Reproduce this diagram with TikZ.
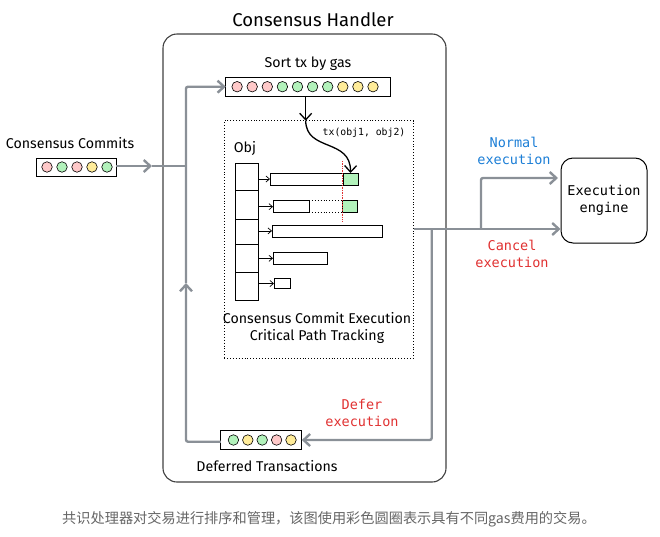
\documentclass[tikz,border=0pt]{standalone}
\usepackage{fontspec}
\setmainfont{Fira Sans}
\setmonofont{DejaVu Sans Mono}
\newfontfamily\cjk{Noto Sans CJK SC}
\usepackage{tikz}
\usetikzlibrary{arrows.meta}
\usetikzlibrary{positioning}

\definecolor{gaspink}{HTML}{FFC9C9}
\definecolor{gasgreen}{HTML}{B2F2BB}
\definecolor{gasyellow}{HTML}{FFEC99}
\definecolor{flowgray}{HTML}{8A9097}
\definecolor{normalblue}{HTML}{1C7ED6}
\definecolor{cancelred}{HTML}{E03131}
\definecolor{captiongray}{HTML}{666666}

\begin{document}
\begin{tikzpicture}[x=1pt,y=-1pt,
  >={Straight Barb[length=6.5pt,width=12pt]},
  hand/.style={font=\fontsize{14.2}{17}\selectfont,align=center},
  mono/.style={font=\ttfamily\fontsize{13.5}{17}\selectfont,align=center},
  flow/.style={draw=flowgray,line width=2.4pt,rounded corners=2pt},
  bar/.style={draw,rectangle,fill=white,line width=0.8pt,inner sep=0pt,outer sep=0pt},
  gas/.style={draw,circle,minimum size=10.5pt,inner sep=0pt,line width=0.6pt},
  cell/.style={draw,rectangle,minimum width=23pt,line width=0.8pt,inner sep=0pt,anchor=north},
  lane/.style={bar,anchor=west,minimum height=12pt},
  hit/.style={bar,fill=gasgreen,minimum width=15pt,minimum height=12pt,anchor=west}]
      \useasboundingbox (0,0) rectangle (660,536);

      % handler frame
      \node [draw=black!75,line width=1.1pt,rounded corners=14pt,minimum width=283pt,minimum height=448pt] (handler) at (304.5,258) {};
      \node [hand,font=\fontsize{18.5}{21}\selectfont] (title) at (313,20) {Consensus Handler};

      % incoming commits
      \node [hand] (commitslbl) at (70,143) {Consensus Commits};
      \node [bar,minimum width=80pt,minimum height=18pt] (commits) at (76.3,167) {};
      \foreach \c [count=\i] in {gaspink,gasgreen,gaspink,gasyellow,gasgreen}
        \node [gas,fill=\c] (k\i) at (32+15*\i,167) {};

      % sorted queue
      \node [hand] (sortlbl) at (308,64) {Sort tx by gas};
      \node [bar,minimum width=165pt,minimum height=19pt] (sort) at (308.3,86.7) {};
      \foreach \c [count=\i] in {gaspink,gaspink,gaspink,gasgreen,gasgreen,gasgreen,gasgreen,gasyellow,gasyellow,gasyellow}
        \node [gas,fill=\c] (s\i) at (222+15.1*\i,86.7) {};

      % critical path tracking
      \node [draw,dotted,line width=0.9pt,minimum width=189pt,minimum height=238pt] (track) at (318.7,239.5) {};
      \node [font=\ttfamily\fontsize{9.8}{12}\selectfont] (txlbl) at (364,132.7) {tx(obj1, obj2)};
      \node [hand] (objlbl) at (245,148) {Obj};
      \foreach \top/\bot [count=\i] in {163/190,190/219,219/244,244/272,272/300}
        \node [cell,minimum height={(\bot-\top)*1pt}] (c\i) at (246.5,\top) {};
      \foreach \y/\x/\w [count=\i] in {179/270/73,206.7/273/36,230.9/272/110,258.3/273/54}
        \node [lane,minimum width=\w pt] (b\i) at (\x,\y) {};
      \node [lane,minimum height=10pt,minimum width=16pt] (b5) at (274,283.5) {};
      \foreach \i in {1,...,5}
        \draw [-{Straight Barb[length=3.5pt,width=6pt]},line width=0.7pt] (c\i.east |- b\i) -- (b\i.west);
      \node [hit] (g1) at (b1.east) {};
      \node [hit] (g2) at (342,206.7) {};
      \draw [dotted,line width=0.9pt] (b2.north east) -- (g2.north west);
      \draw [dotted,line width=0.9pt] (b2.south east) -- (g2.south west);
      \draw [densely dotted,cancelred,line width=0.7pt] (342,161) -- (342,221);
      \node [hand] (tracklbl) at (317,328) {Consensus Commit Execution\\Critical Path Tracking};

      \coordinate (drop) at (305.7,120.7);
      \draw [->,line width=1.3pt] (sort.south -| drop) -- (drop);
      \draw [->,line width=1.3pt] (drop) .. controls (306,152) and (351,138) .. (g1.north);

      % execution engine
      \node [draw,line width=1pt,rounded corners=12pt,minimum width=86pt,minimum height=85pt,mono,fill=white] (engine) at (604,200.5) {Execution\\engine};
      \node [mono,text=normalblue] (normallbl) at (514,151) {Normal\\execution};
      \node [mono,text=cancelred] (cancellbl) at (512,254) {Cancel\\execution};
      \node [mono,text=cancelred] (deferlbl) at (362,413) {Defer\\execution};

      % deferred queue
      \node [bar,minimum width=81pt,minimum height=19pt] (defer) at (261.3,440) {};
      \foreach \c [count=\i] in {gasgreen,gasyellow,gasgreen,gaspink,gasyellow}
        \node [gas,fill=\c] (d\i) at (219+14.4*\i,440) {};
      \node [hand] (deferredlbl) at (267,466) {Deferred Transactions};

      % flows
      \coordinate (cin) at (152,166);
      \coordinate (join) at (186,166);
      \coordinate (loop) at (186,441.7);
      \coordinate (up) at (186,283);
      \coordinate (fork) at (431.7,229);
      \coordinate (split) at (481,229);
      \coordinate (normalin) at (558,178);
      \draw [flow,->] (commits.east |- cin) -- (cin);
      \draw [flow] (cin) -- (join);
      \draw [flow,->] (defer.west |- loop) -- (loop) -- (up);
      \draw [flow,->] (up) |- (sort.west);
      \draw [flow,->] (track.east |- split) -- (engine.west |- split);
      \draw [flow,->] (split) |- (normalin);
      \draw [flow,->] (fork) |- (defer.east);

      % caption
      \node [font=\cjk\fontsize{14.2}{17}\selectfont,text=captiongray] (caption) at (329,519) {共识处理器对交易进行排序和管理，该图使用彩色圆圈表示具有不同gas费用的交易。};
\end{tikzpicture}
\end{document}
